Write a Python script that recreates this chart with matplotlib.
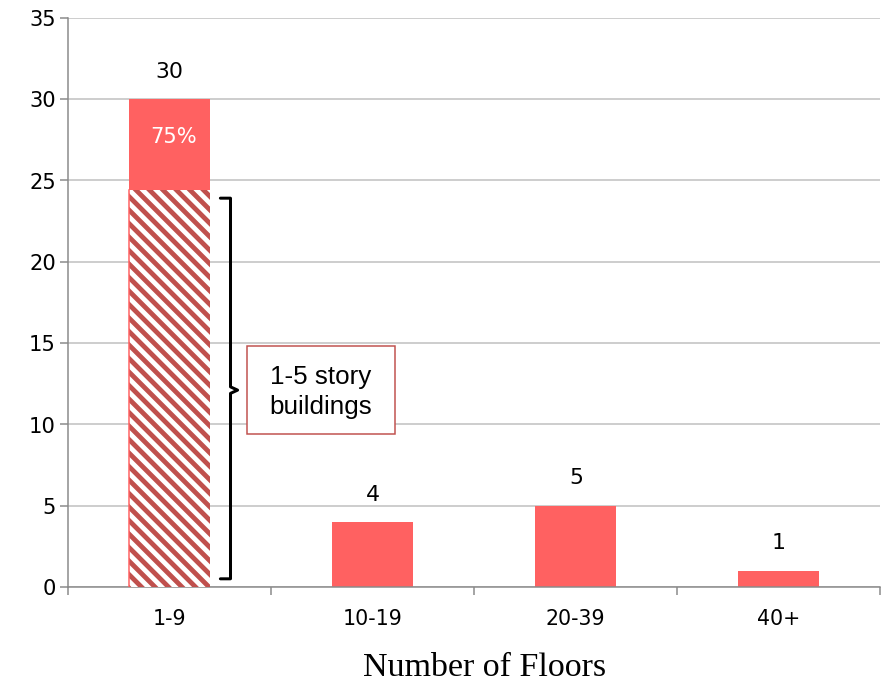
import matplotlib.pyplot as plt
import matplotlib as mpl
from matplotlib.patches import Rectangle

# data
categories = ["1-9", "10-19", "20-39", "40+"]
counts = [30, 4, 5, 1]
low_rise = 24.4          # hatched part of first bar (1-5 story buildings)
pct_label = "75%"
box_text = "1-5 story\nbuildings"
yticks = [0, 5, 10, 15, 20, 25, 30, 35]

bar_color = "#FF6161"
hatch_color = "#C0504D"
grid_color = "#BFBFBF"
axis_color = "#898989"

DPI = 81  # hatch tile is one inch, so this sets the stripe spacing


def pt(px):
    # pixel size -> points at this dpi
    return px * 72.0 / DPI


mpl.rcParams["hatch.linewidth"] = pt(4.8)
mpl.rcParams["hatch.color"] = hatch_color

fig = plt.figure(figsize=(883.4 / DPI, 683.4 / DPI), dpi=DPI)
ax = fig.add_axes([68 / 883, 96 / 683, 812 / 883, 569 / 683])

x = list(range(len(categories)))
ax.bar(x, counts, width=0.4, color=bar_color, zorder=2)
# hatched low-rise portion of the first bar
ax.bar(x[0], low_rise, width=0.4, color="white", edgecolor=hatch_color,
       hatch="\\\\", linewidth=0, zorder=3)
ax.plot([x[0] - 0.2, x[0] - 0.2], [0, low_rise], color=bar_color, lw=pt(1.5), zorder=4)

for xi, v in zip(x, counts):
    ax.text(xi, v + 1.7, str(v), ha="center", va="center", fontsize=pt(22),
            family="DejaVu Sans")
ax.text(x[0] + 0.02, 27.7, pct_label, ha="center", va="center", fontsize=pt(21),
        color="white", family="DejaVu Sans")

# curly bracket next to hatched part
bx = 0.30
ax.plot([bx - 0.05, bx, bx, bx + 0.035, bx, bx, bx - 0.05],
        [23.9, 23.9, 12.3, 12.1, 11.9, 0.5, 0.5],
        color="black", lw=pt(3), solid_joinstyle="round", solid_capstyle="round",
        zorder=5)
ax.add_patch(Rectangle((0.38, 9.4), 0.73, 5.4, fc="white", ec=hatch_color,
                       lw=pt(1.5), zorder=6))
ax.text(0.745, 12.0, box_text, ha="center", va="center", fontsize=pt(26),
        family="Liberation Sans", linespacing=1.3, zorder=7)

ax.set_xlim(-0.5, 3.5)
ax.set_ylim(0, 35)
ax.set_yticks(yticks)
ax.set_xticks(x)
ax.set_xticklabels(categories)
ax.set_xticks([-0.5, 0.5, 1.5, 2.5, 3.5], minor=True)
ax.tick_params(axis="x", which="major", length=0, pad=pt(22), labelsize=pt(20.5))
ax.tick_params(axis="x", which="minor", length=pt(8), width=pt(1.5),
               color=axis_color, direction="out")
ax.tick_params(axis="y", length=pt(8), width=pt(1.5), color=axis_color,
               labelsize=pt(21), pad=pt(4))
for lab in ax.get_xticklabels() + ax.get_yticklabels():
    lab.set_family("DejaVu Sans")
ax.yaxis.grid(True, color=grid_color, lw=pt(1.5), zorder=0)
ax.set_axisbelow(True)
for s in ["top", "right"]:
    ax.spines[s].set_visible(False)
for s in ["left", "bottom"]:
    ax.spines[s].set_color(axis_color)
    ax.spines[s].set_linewidth(pt(1.5))

ax.set_xlabel("Number of Floors", family="Liberation Serif", fontsize=pt(34))
ax.xaxis.set_label_coords(0.513, -0.114)

fig.savefig("out.png", dpi=DPI)
